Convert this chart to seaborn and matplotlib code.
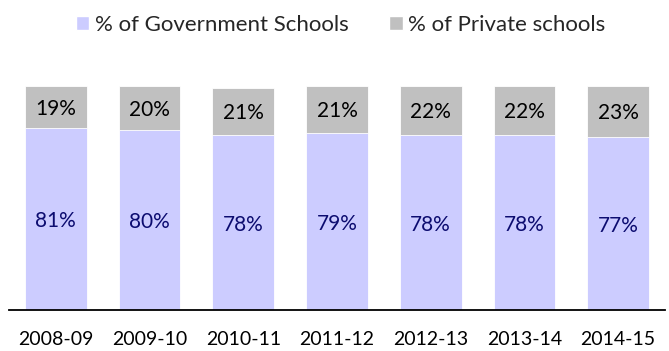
import matplotlib
matplotlib.use("Agg")
import matplotlib.pyplot as plt
import numpy as np
import pandas as pd
import seaborn as sns
from matplotlib.patches import Patch

# data
years = ["2008-09", "2009-10", "2010-11", "2011-12", "2012-13", "2013-14", "2014-15"]
govt_pct = [81, 80, 78, 79, 78, 78, 77]
private_pct = [19, 20, 21, 21, 22, 22, 23]

gov_color = "#ccccff"
priv_color = "#c0c0c0"
gov_text = "#0c0c70"

df = pd.DataFrame({"year": years, "govt": govt_pct, "private": private_pct})
df["total"] = df["govt"] + df["private"]

sns.set_theme(style="white")
plt.rcParams["font.family"] = ["Lato", "DejaVu Sans"]

fig = plt.figure(figsize=(6.69, 3.51), dpi=100)
ax = fig.add_axes([9 / 669, 41 / 351, 656 / 669, 224.5 / 351])

# stacked: draw the full bar in grey, then the government part over it
sns.barplot(data=df, x="year", y="total", order=years, color=priv_color,
            width=0.66, saturation=1, edgecolor="white", linewidth=0.6, ax=ax)
sns.barplot(data=df, x="year", y="govt", order=years, color=gov_color,
            width=0.66, saturation=1, edgecolor="white", linewidth=0.6, ax=ax)

for i, row in df.iterrows():
    ax.text(i, row["govt"] / 2 - 1.0, f"{row['govt']}%", ha="center", va="center",
            fontsize=15, color=gov_text)
    ax.text(i, row["govt"] + row["private"] / 2 - 0.9, f"{row['private']}%",
            ha="center", va="center", fontsize=15, color="black")

ax.set_xlim(-0.5, len(years) - 0.5)
ax.set_ylim(0, 100)
ax.set_xlabel("")
ax.set_ylabel("")
ax.set_yticks([])
ax.tick_params(axis="x", length=0, pad=15, labelsize=14, colors="black")
for s in ["top", "right", "left"]:
    ax.spines[s].set_visible(False)
ax.spines["bottom"].set_color("black")
ax.spines["bottom"].set_linewidth(1.3)
ax.set_facecolor("white")

handles = [Patch(facecolor=gov_color, label="% of Government Schools"),
           Patch(facecolor=priv_color, label="% of Private schools")]
fig.legend(handles=handles, loc="center", bbox_to_anchor=(0.509, 0.93),
           ncol=2, frameon=False, fontsize=16, handlelength=0.62,
           handleheight=0.62, handletextpad=0.25, columnspacing=1.8)

fig.savefig("out.png", dpi=100, facecolor="white")
